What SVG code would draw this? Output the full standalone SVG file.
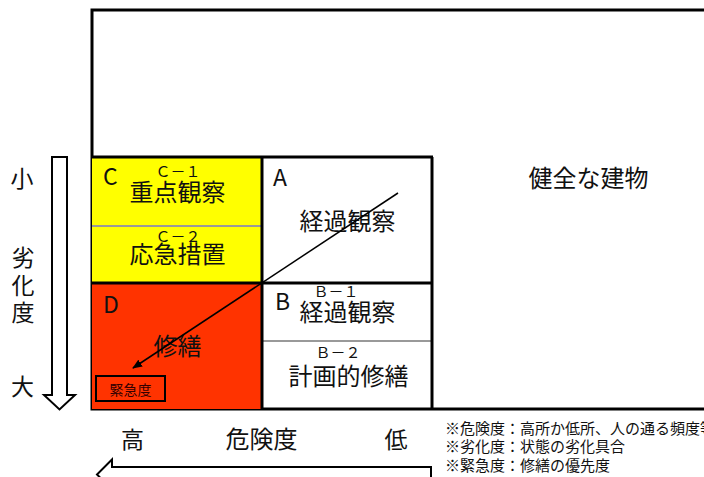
<svg xmlns="http://www.w3.org/2000/svg" width="704" height="477" viewBox="0 0 704 477">
<defs>
<style>
text{font-family:"Noto Sans CJK JP","Noto Sans",sans-serif;fill:#111}
.big{font-size:24px;text-anchor:middle}
.sub{font-size:15px;text-anchor:middle}
.let{font-size:23px}
.side{font-size:23px;text-anchor:middle}
.note{font-size:15px}
.blk{stroke:#000;stroke-width:3;fill:none}
.gray{stroke:#999;stroke-width:2}
</style>
<marker id="ah" markerWidth="10" markerHeight="8" refX="9" refY="4" orient="auto" markerUnits="userSpaceOnUse">
<path d="M0,0 L10,4 L0,8 z" fill="#000"/>
</marker>
</defs>
<rect width="704" height="477" fill="#fff"/>
<g id="frame">
<rect x="92" y="10" width="640" height="399" class="blk"/>
</g>
<g id="cellC">
<rect x="92" y="157" width="170" height="126" fill="#ffff00"/>
<line x1="92" y1="226" x2="262" y2="226" class="gray"/>
<text x="103" y="185" class="let">C</text>
<text x="178" y="177" class="sub">Ｃ－１</text>
<text x="177.5" y="201" class="big">重点観察</text>
<text x="178" y="242" class="sub">Ｃ－２</text>
<text x="177.5" y="263" class="big">応急措置</text>
</g>
<g id="cellD">
<rect x="92" y="283" width="170" height="126" fill="#ff3300"/>
<text x="103" y="313" class="let">D</text>
<text x="177.5" y="355" class="big">修繕</text>
<g id="urgency">
<rect x="96" y="376" width="69" height="25" fill="none" stroke="#000" stroke-width="2"/>
<text x="130.5" y="395" font-size="14" text-anchor="middle" style="fill:#300">緊急度</text>
</g>
</g>
<g id="cellA">
<text x="273" y="186" class="let">A</text>
<text x="347.5" y="230" class="big">経過観察</text>
</g>
<g id="cellB">
<line x1="262" y1="341" x2="432" y2="341" class="gray"/>
<text x="275" y="310" class="let">B</text>
<text x="336" y="297" class="sub">Ｂ－１</text>
<text x="347.5" y="321" class="big">経過観察</text>
<text x="338" y="358" class="sub">Ｂ－２</text>
<text x="348.5" y="385" class="big">計画的修繕</text>
</g>
<g id="grid">
<line x1="92" y1="157" x2="433" y2="157" class="blk"/>
<line x1="432" y1="157" x2="432" y2="409" class="blk"/>
<line x1="262" y1="157" x2="262" y2="409" class="blk"/>
<line x1="92" y1="283" x2="432" y2="283" class="blk"/>
</g>
<g id="healthy">
<text x="588.5" y="187" class="big">健全な建物</text>
</g>
<g id="deterioration-axis">
<polygon points="52,157 67,157 67,395 75,395 59.5,409.5 44,395 52,395" fill="#fff" stroke="#000" stroke-width="2"/>
<text x="22" y="187" class="side">小</text>
<text x="23" y="266" class="side">劣</text>
<text x="23" y="294" class="side">化</text>
<text x="23" y="321" class="side">度</text>
<text x="22.5" y="395" class="side">大</text>
</g>
<g id="danger-axis">
<polygon points="431,467 112,467 112,459.5 97,474.5 112,489.5 112,482 431,482" fill="#fff" stroke="#000" stroke-width="2"/>
<text x="132.5" y="448" class="side">高</text>
<text x="261.5" y="448" class="big">危険度</text>
<text x="396" y="448" class="side">低</text>
</g>
<g id="notes">
<text x="445" y="434" class="note">※危険度：高所か低所、人の通る頻度等</text>
<text x="445" y="452" class="note">※劣化度：状態の劣化具合</text>
<text x="445" y="471" class="note">※緊急度：修繕の優先度</text>
</g>
<g id="connectors">
<line x1="398" y1="193" x2="133" y2="368" stroke="#000" stroke-width="1.5" marker-end="url(#ah)"/>
</g>
</svg>
